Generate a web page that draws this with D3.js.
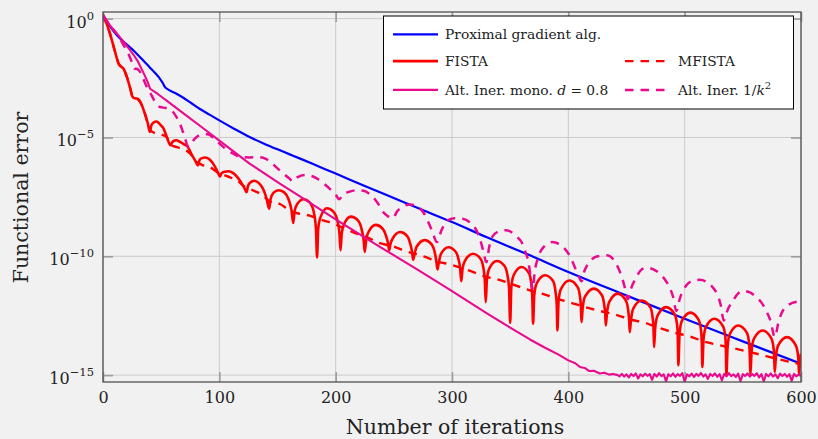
<!DOCTYPE html>
<html><head><meta charset="utf-8">
<script src="https://cdn.jsdelivr.net/npm/d3@7"></script>
<style>
html,body{margin:0;padding:0;background:#f1f1f1;}
svg{display:block;font-family:"DejaVu Serif",serif;}
text{white-space:pre;}
</style></head><body>
<svg id="chart" width="818" height="439"></svg>
<script>
// ---------- data (iteration, log10 of functional error) ----------
const xTicks = [0, 100, 200, 300, 400, 500, 600];
const yTickExps = [0, -5, -10, -15];
const yTickSup = ["0", "\u22125", "\u221210", "\u221215"];
const xLabel = "Number of iterations";
const yLabel = "Functional error";

const proximal = [[0,0.15],[6,-0.33],[12,-0.7],[19,-1.03],[26,-1.33],[33,-1.68],[40,-2.04],[45,-2.3],[49,-2.53],[51.5,-2.72],[53,-2.86],[55,-2.95],[62,-3.13],[69,-3.33],[76,-3.56],[83,-3.79],[92,-4.05],[100,-4.28],[113,-4.64],[126,-4.98],[138,-5.25],[150,-5.5],[160,-5.7],[170,-5.9],[185,-6.21],[200,-6.52],[225,-7.04],[255,-7.65],[280,-8.16],[300,-8.56],[330,-9.2],[367,-9.96],[400,-10.66],[450,-11.65],[500,-12.63],[550,-13.58],[600,-14.52]];

const fista = [
[0,0.15],[3,-0.2],[6,-0.63],[10,-1.33],[13.5,-1.9],[15,-2.0],[17.5,-2.1],[20.5,-2.45],[23.5,-2.95],[25.5,-3.3],[27,-3.35],[29,-3.36],[31,-3.42],[33.5,-3.65],[36,-4.0],[38.5,-4.4],[40.3,-4.77],
[41.5,-4.5],[43.5,-4.37],[46,-4.33],[49,-4.45],[52,-4.62],[54.6,-4.95],[56.5,-5.2],[58,-5.33],
[59.5,-5.2],[61,-5.14],[63,-5.12],[66,-5.18],[70,-5.3],[73,-5.4],[76,-5.7],[79,-5.95],[81.8,-6.17],
[83,-5.95],[85,-5.87],[88,-5.84],[91,-5.9],[94,-6.05],[97,-6.3],[99,-6.5],[100.5,-6.64],
[102,-6.5],[104.5,-6.44],[108,-6.42],[112,-6.5],[116,-6.7],[119.5,-6.95],[121.8,-7.15],[123.4,-7.3],
[124.6,-7.05],[126.5,-6.9],[130,-6.82],[134,-6.92],[137.5,-7.15],[140.5,-7.55],[142.8,-8.0],
[144,-7.6],[146.5,-7.33],[151,-7.22],[155.5,-7.3],[159.5,-7.6],[162,-8.05],[163.5,-8.6],
[164.7,-8.1],[167,-7.8],[172.5,-7.6],[177.5,-7.72],[181,-8.1],[183,-8.8],[184,-10.05],
[185,-8.85],[187,-8.35],[192.5,-7.98],[198,-8.12],[201.5,-8.5],[203.2,-9.0],[204.2,-9.75],
[205.2,-9.05],[207.2,-8.65],[213,-8.33],[219,-8.48],[222,-8.8],[224,-9.3],[225,-9.82],
[226,-9.4],[228,-9.0],[234.5,-8.68],[240.5,-8.85],[243,-9.1],[245,-9.45],[246,-9.75],
[247,-9.5],[249,-9.25],[255.5,-8.98],[261.5,-9.15],[264,-9.45],[265.6,-9.8],[266.6,-10.15],
[267.6,-9.95],[269.6,-9.6],[276.5,-9.32],[282.5,-9.5],[285,-9.8],[286.5,-10.2],[287.5,-10.55],
[288.5,-10.3],[290.5,-9.9],[297,-9.62],[303,-9.8],[305.5,-10.1],[307,-10.5],[308,-11.05],
[309,-10.55],[311,-10.2],[318,-9.89],[324.5,-10.1],[327,-10.5],[328.2,-11.0],[329,-11.93],
[330,-11.0],[332,-10.52],[338.5,-10.2],[345,-10.4],[347.5,-10.75],[349,-11.3],[350,-12.8],
[351,-11.3],[353,-10.8],[359.7,-10.45],[366,-10.7],[368,-11.1],[369,-11.7],[369.7,-12.84],
[370.7,-11.65],[372.7,-11.15],[380,-10.8],[387,-11.05],[389,-11.5],[390,-12.0],[390.6,-13.12],
[391.6,-11.9],[393.6,-11.38],[401,-11.02],[408,-11.3],[410,-11.7],[410.8,-12.1],[411.3,-12.77],
[412.3,-12.2],[414.3,-11.7],[422,-11.36],[429,-11.65],[431,-12.1],[431.7,-12.4],[432.2,-12.91],
[433.2,-12.4],[435.2,-11.92],[442.5,-11.57],[449.5,-11.87],[451.5,-12.3],[452.3,-12.7],[452.8,-13.19],
[453.8,-12.7],[455.8,-12.2],[463,-11.86],[470.5,-12.15],[472.5,-12.6],[473.2,-13.0],[473.7,-13.82],
[474.7,-13.0],[476.7,-12.5],[484,-12.14],[491.5,-12.45],[493.5,-12.9],[494.1,-13.4],[494.6,-14.59],
[495.6,-13.25],[497.6,-12.72],[505,-12.37],[512,-12.68],[514,-13.1],[514.7,-13.6],[515.2,-14.66],
[516.2,-13.5],[518.2,-12.98],[525.5,-12.63],[533,-12.95],[535,-13.4],[535.4,-13.9],[535.9,-15.01],
[536.9,-13.8],[538.9,-13.26],[546,-12.91],[553.5,-13.22],[555.5,-13.7],[556,-14.2],[556.5,-15.01],
[557.5,-14.0],[559.5,-13.47],[567,-13.12],[574.5,-13.45],[576.5,-13.9],[577,-14.3],[577.4,-14.87],
[578.4,-14.25],[580.4,-13.75],[588,-13.4],[595.5,-13.75],[597.5,-14.2],[598,-14.6],[598.3,-14.94],
[599.2,-14.3],[600,-14.1]];

const mfista = [[0,0.15],[3,-0.2],[6,-0.63],[10,-1.33],[13.5,-1.9],[17.5,-2.1],[20.5,-2.45],[23.5,-2.95],[25.5,-3.3],[30,-3.4],[33.5,-3.65],[36,-4.0],[38.5,-4.4],[41,-4.7],[44,-4.8],[50,-4.87],[55,-5.0],[58,-5.3],[63,-5.4],[70,-5.5],[75,-5.68],[80,-6.0],[85,-6.15],[92,-6.25],[97,-6.42],[106,-6.62],[115,-6.8],[122,-7.08],[129,-7.23],[137,-7.42],[143,-7.68],[152,-7.8],[160,-8.05],[168,-8.2],[177,-8.28],[184,-8.4],[190,-8.5],[197,-8.6],[204,-8.75],[212,-8.92],[220,-9.08],[227,-9.2],[238,-9.45],[249,-9.58],[260,-9.78],[275,-10.0],[288,-10.22],[301,-10.38],[315,-10.6],[329,-10.86],[340,-10.98],[352,-11.18],[365,-11.4],[378,-11.58],[390,-11.78],[402,-11.95],[413,-12.12],[427,-12.3],[440,-12.45],[455,-12.68],[466,-12.8],[476,-12.98],[494,-13.25],[505,-13.38],[516,-13.58],[528,-13.72],[540,-13.85],[556,-14.03],[570,-14.2],[585,-14.38],[600,-14.55]];

const altMono = [[0,0.15],[6,-0.28],[12,-0.63],[19,-1.05],[26,-1.5],[30,-1.8],[34.5,-2.25],[38,-2.62],[40.5,-2.95],[47,-3.17],[55,-3.46],[70,-4.02],[85,-4.57],[100,-5.13],[113,-5.62],[126,-6.1],[140,-6.55],[152,-6.94],[170,-7.5],[200,-8.45],[238,-9.6],[270,-10.55],[298,-11.4],[330,-12.4],[350,-13.0],[367,-13.5],[380,-13.85],[392,-14.15],[400,-14.38],[406,-14.5],[410,-14.66],[414,-14.7],[418,-14.83],[422,-14.82],[427,-14.93],[431,-14.9],[435,-14.98],[438,-14.95],
[442,-14.99],[444,-15.05],[446,-14.95],[448,-15.06],[450,-14.97],[452,-15.1],[454,-14.95],[456,-15.04],[458,-14.93],[460,-15.14],[462,-14.97],[464,-15.05],[466,-14.94],[468,-15.03],[470,-14.96],[472,-15.2],[474,-14.95],[476,-15.06],[478,-14.92],[480,-15.04],[482,-14.97],[484,-15.27],[486,-14.96],[488,-15.05],[490,-14.93],[492,-15.07],[494,-14.96],[496,-15.03],[498,-14.92],[500,-15.28],[502,-14.97],[504,-15.05],[506,-14.94],[508,-15.08],[510,-14.95],[512,-15.03],[514,-14.91],[516,-15.06],[518,-14.97],[520,-15.16],[522,-14.95],[524,-15.04],[526,-14.93],[528,-15.07],[530,-14.96],[532,-15.22],[534,-14.95],[536,-15.05],[538,-14.92],[540,-15.04],[542,-14.97],[544,-15.08],[546,-14.94],[548,-15.26],[550,-14.96],[552,-15.04],[554,-14.93],[556,-15.06],[558,-14.96],[560,-15.03],[562,-14.92],[564,-15.1],[566,-14.96],[568,-15.27],[570,-14.95],[572,-15.05],[574,-14.93],[576,-15.06],[578,-14.97],[580,-15.13],[582,-14.94],[584,-15.04],[586,-14.95],[588,-15.07],[590,-14.96],[592,-15.24],[594,-14.95],[596,-15.05],[598,-14.96],[600,-15.04]];

const altInvK2 = [[0,0.15],[6,-0.3],[12,-0.65],[17,-1.05],[22,-1.5],[25,-1.85],[27,-2.1],[29.5,-2.12],[32,-2.25],[37,-2.8],[42,-3.25],[46,-3.6],[49,-3.72],[54,-3.76],[58,-3.82],[62,-4.05],[66,-4.4],[70,-4.95],[73.5,-5.4],[76.5,-5.2],[80,-5.0],[86,-4.86],[90,-4.86],[95,-5.02],[100,-5.25],[106,-5.5],[112,-5.68],[118,-5.82],[126,-5.84],[134,-5.83],[140,-5.9],[145,-6.08],[150,-6.3],[155,-6.52],[160,-6.72],[163.5,-6.85],[167,-6.68],[173.5,-6.58],[179,-6.62],[185,-6.76],[190,-6.95],[195,-7.16],[200,-7.4],[203,-7.6],[206,-7.42],[212,-7.28],[218,-7.22],[224,-7.24],[229,-7.37],[234,-7.62],[238,-7.9],[241,-8.15],[245,-8.32],[249,-8.4],[253,-8.1],[258,-7.9],[264,-7.82],[270,-7.9],[276,-8.2],[280,-8.6],[283,-8.95],[287,-9.4],[291,-8.9],[296,-8.5],[302,-8.4],[309,-8.42],[316,-8.6],[321,-8.91],[324.5,-9.35],[327,-9.8],[329.6,-10.25],[332,-9.6],[335,-9.15],[340,-8.96],[346,-8.9],[350,-8.95],[355,-9.15],[360,-9.42],[363,-9.8],[365.5,-10.2],[367.5,-10.8],[369.5,-11.4],[371,-10.7],[374,-10.05],[379,-9.6],[386,-9.4],[392,-9.48],[398,-9.75],[402,-10.05],[405.5,-10.45],[409,-10.85],[411.3,-11.05],[414,-10.6],[418,-10.25],[425,-10.0],[433,-9.96],[439,-10.15],[443,-10.5],[446.5,-10.95],[449,-11.4],[451.3,-11.8],[454,-11.35],[458.5,-10.88],[462,-10.6],[467,-10.48],[473,-10.55],[479,-10.75],[484,-11.05],[487,-11.3],[490,-11.7],[492.9,-12.3],[496,-11.75],[501.5,-11.22],[507,-11.03],[513,-10.99],[519,-11.08],[524,-11.3],[528,-11.6],[531,-12.05],[533.6,-12.7],[537,-12.25],[541.6,-11.86],[546,-11.56],[550,-11.46],[556,-11.52],[561.6,-11.72],[566,-11.95],[570,-12.28],[574,-12.75],[577.4,-13.4],[581,-12.7],[584.5,-12.28],[589,-12.05],[598,-11.9]];

const seriesNames = ["Proximal gradient alg.", "FISTA", "MFISTA", "Alt. Iner. mono. d = 0.8", "Alt. Iner. 1/k^2"];
const seriesData = [proximal, fista, mfista, altMono, altInvK2];

// ---------- styles ----------
const styles = [
  {color:"#0000ff", width:2.2, dash:null, curve:d3.curveMonotoneX},
  {color:"#ff0000", width:2.6, dash:null, curve:d3.curveMonotoneX},
  {color:"#ff0000", width:2.4, dash:"8.5,7", curve:d3.curveMonotoneX},
  {color:"#ea0a8e", width:2.1, dash:null, curve:d3.curveLinear},
  {color:"#ea0a8e", width:2.5, dash:"8.5,7", curve:d3.curveMonotoneX}
];

const W = 818, H = 439;
const L = 103, R = 801, T = 12, B = 382;
const svg = d3.select("#chart");
svg.append("rect").attr("width", W).attr("height", H).attr("fill", "#f1f1f1");

const x = d3.scaleLinear().domain([0, 600]).range([L, R]);
const y = d3.scaleLog().domain([Math.pow(10, -15.29), Math.pow(10, 0.28)]).range([B, T]);
const yVals = yTickExps.map(e => Math.pow(10, e));

// grid
const grid = svg.append("g").attr("stroke", "#cbcbcb").attr("stroke-width", 1);
grid.selectAll("line.gx").data(xTicks).join("line").attr("class","gx")
  .attr("x1", d => x(d)).attr("x2", d => x(d)).attr("y1", T).attr("y2", B);
grid.selectAll("line.gy").data(yVals).join("line").attr("class","gy")
  .attr("x1", L).attr("x2", R).attr("y1", d => y(d)).attr("y2", d => y(d));

function styleAxis(g) {
  g.select(".domain").remove();
  g.selectAll(".tick line").attr("stroke", "#9c9c9c").attr("stroke-width", 1.6);
  g.selectAll(".tick text").attr("fill", "#222").attr("font-family", "DejaVu Serif");
}

const axB = svg.append("g").attr("transform", `translate(0,${B})`)
  .call(d3.axisBottom(x).tickValues(xTicks).tickSize(-10).tickPadding(10).tickFormat(d3.format("d")));
styleAxis(axB);
axB.selectAll(".tick text").attr("font-size", 16);

const axT = svg.append("g").attr("transform", `translate(0,${T})`)
  .call(d3.axisTop(x).tickValues(xTicks).tickSize(-10).tickFormat(""));
styleAxis(axT);

const axL = svg.append("g").attr("transform", `translate(${L},0)`)
  .call(d3.axisLeft(y).tickValues(yVals).tickSize(-10).tickPadding(9).tickFormat(""));
styleAxis(axL);
axL.selectAll(".tick text").each(function(d, i) {
  const t = d3.select(this);
  t.text(null).attr("dy", 8.4).attr("font-size", 16);
  t.append("tspan").text("10");
  t.append("tspan").attr("dy", -8).attr("font-size", 11.5).text(yTickSup[i]);
});

const axR = svg.append("g").attr("transform", `translate(${R},0)`)
  .call(d3.axisRight(y).tickValues(yVals).tickSize(-10).tickFormat(""));
styleAxis(axR);

// clip
svg.append("clipPath").attr("id", "clip").append("rect")
  .attr("x", L).attr("y", T).attr("width", R - L).attr("height", B - T);

const plot = svg.append("g").attr("clip-path", "url(#clip)");
seriesData.forEach((data, i) => {
  const s = styles[i];
  const line = d3.line().x(d => x(d[0])).y(d => y(Math.pow(10, d[1]))).curve(s.curve);
  plot.append("path").datum(data).attr("d", line)
    .attr("fill", "none").attr("stroke", s.color).attr("stroke-width", s.width)
    .attr("stroke-linejoin", "round")
    .attr("stroke-dasharray", s.dash);
});

// frame
svg.append("rect").attr("x", L).attr("y", T).attr("width", R - L).attr("height", B - T)
  .attr("fill", "none").attr("stroke", "#505050").attr("stroke-width", 1.3);

// axis labels
svg.append("text").attr("x", 455).attr("y", 433.5).attr("text-anchor", "middle")
  .attr("font-size", 20.5).attr("fill", "#222").text(xLabel);
svg.append("text").attr("transform", "translate(27.5,197.5) rotate(-90)")
  .attr("text-anchor", "middle").attr("font-size", 20.5).attr("fill", "#222").text(yLabel);

// legend
const leg = svg.append("g");
leg.append("rect").attr("x", 383.5).attr("y", 16).attr("width", 410).attr("height", 93)
  .attr("fill", "#ffffff").attr("stroke", "#000").attr("stroke-width", 1);
const legPos = [
  {x:393, y:34.3}, {x:393, y:61.1}, {x:625, y:61.1}, {x:393, y:89.9}, {x:625, y:89.9}
];
const sampleLen = [45, 45, 42, 45, 42];
legPos.forEach((p, i) => {
  const s = styles[i];
  leg.append("line").attr("x1", p.x).attr("x2", p.x + sampleLen[i]).attr("y1", p.y).attr("y2", p.y)
    .attr("stroke", s.color).attr("stroke-width", s.width).attr("stroke-dasharray", s.dash);
  const t = leg.append("text").attr("x", p.x + sampleLen[i] + 7 + (i===2||i===4 ? 4 : 0)).attr("y", p.y + 4.8)
    .attr("font-size", 13.8).attr("fill", "#222");
  const name = seriesNames[i];
  if (i === 3) {
    t.append("tspan").text("Alt. Iner. mono. ");
    t.append("tspan").attr("font-style", "italic").text("d");
    t.append("tspan").text(" = 0.8");
  } else if (i === 4) {
    t.append("tspan").text("Alt. Iner. 1/");
    t.append("tspan").attr("font-style", "italic").text("k");
    t.append("tspan").attr("dy", -6).attr("font-size", 10).text("2");
  } else {
    t.text(name);
  }
});
</script>
</body></html>
